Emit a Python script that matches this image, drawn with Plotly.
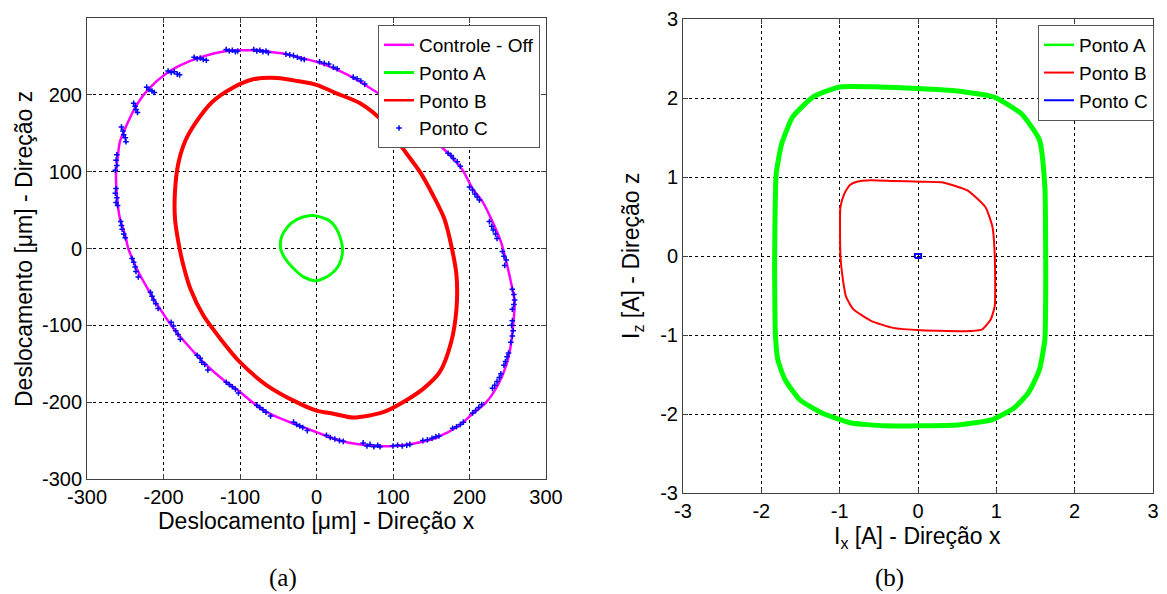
import plotly.graph_objects as go

# ---------------- Data: panel (a) displacement [um] ----------------
ctrl_off_x = [-262, -260, -257, -248, -235, -220, -196, -179, -148, -118, -100, -84, -62, -40, -16,
              0, 26, 57, 100, 143, 174, 191, 204, 217, 230, 241, 248, 254, 259, 257, 254, 248,
              237, 222, 204, 187, 157, 126, 100, 65, 30, 0, -30, -57, -75, -102, -118, -148,
              -170, -187, -205, -218, -235, -246, -250, -257, -261, -262]
ctrl_off_y = [100, 117, 139, 161, 187, 207, 228, 238, 250, 257, 258, 258, 256, 253, 247,
              243, 233, 217, 188, 150, 122, 102, 78, 61, 35, 9, -17, -43, -70, -100, -126, -152,
              -178, -200, -215, -230, -246, -254, -257, -256, -250, -239, -228, -217, -207, -185, -174, -148,
              -124, -104, -78, -57, -26, 0, 17, 39, 70, 100]

pontoA_x = [-4, 17, 28, 34, 30, 18, 0, -17, -30, -41, -47, -45, -33, -18, -4]
pontoA_y = [43, 36, 22, 0, -20, -34, -42, -37, -26, -13, 0, 17, 33, 41, 43]

pontoB_x = [-51, -25, 0, 26, 57, 87, 113, 135, 152, 167, 177, 183, 183, 176, 161, 139, 113, 87,
            48, 22, 0, -30, -65, -100, -126, -148, -165, -174, -179, -185, -185, -181, -172,
            -157, -136, -110, -84, -51]
pontoB_y = [222, 218, 213, 202, 189, 165, 130, 100, 70, 39, 0, -35, -78, -122, -161, -183, -200, -213,
            -220, -215, -211, -198, -178, -148, -117, -87, -52, -22, 0, 39, 74, 109, 139,
            165, 191, 209, 220, 222]

pontoC_x = [-118, -114, -110, -106, -103, -82, -78, -74, -70, -66, -63, -40, -35, -30, -25, -20, -16,
            -160, -156, -152, -148, -144, -194, -190, -186, -182, -179, -222, -219, -215, -212,
            -239, -237, -236, -234, -255, -253, -252, -250, -249, -261, -262, -261, -263,
            -262, -263, -261, -262, -260, -256, -255, -254, -252, -250,
            4, 10, 16, 22, 27, 48, 53, 58, 63, 143, 146, 149, 151, 154, 172, 176, 179, 184, 188,
            200, 204, 207, 210, 213, 226, 229, 231, 234, 236,
            -241, -239, -237, -236, -233, -217, -215, -213, -210, -207, -190, -187, -184, -181, -178,
            -156, -152, -150, -146, -142, -118, -114, -110, -106, -102, -78, -74, -70, -66, -60,
            -30, -26, -22, -18, -12,
            13, 18, 24, 30, 35, 61, 66, 70, 75, 80, 83, 100, 106, 112, 118, 122, 139, 145, 151, 156, 160,
            178, 183, 188, 192, 204, 208, 212, 216, 230, 233, 236, 239, 241, 245, 247, 249, 251,
            254, 256, 257, 255, 256, 256, 258, 259, 258, 256, 246, 248, 245, 243]
pontoC_y = [259, 257, 258, 256, 257, 259, 257, 258, 256, 257, 255, 253, 252, 251, 249, 247, 246,
            249, 247, 248, 246, 245, 231, 229, 230, 227, 226, 210, 207, 205, 203,
            189, 185, 181, 177, 158, 153, 148, 144, 139, 122, 115, 108, 102,
            78, 72, 66, 60, 56, 35, 30, 25, 19, 14,
            243, 241, 240, 236, 234, 223, 221, 218, 214, 152, 149, 146, 142, 139, 124, 121, 117, 113, 107,
            80, 76, 71, 67, 63, 35, 29, 24, 19, 13,
            -13, -18, -24, -30, -37, -57, -62, -67, -72, -78, -96, -101, -107, -112, -118,
            -139, -143, -148, -151, -158, -174, -177, -180, -183, -188, -204, -207, -210, -213, -218,
            -226, -229, -231, -233, -237,
            -243, -246, -248, -250, -251, -253, -257, -255, -258, -256, -258, -257, -256, -257, -256, -255,
            -250, -249, -247, -245, -244,
            -234, -232, -229, -226, -214, -211, -207, -203, -182, -178, -173, -168, -163, -152, -147, -141, -136,
            -122, -114, -107, -100, -94, -79, -73, -67, -60, -53, -22, -15, -10, -4]

# ---------------- Data: panel (b) currents [A] ----------------
ib_A_x = [-1.33, -1.0, -0.5, 0.0, 0.5, 0.9, 1.0, 1.32, 1.55, 1.62, 1.63, 1.63, 1.62, 1.55, 1.41, 1.23,
          0.95, 0.5, 0.04, -0.42, -0.87, -1.24, -1.51, -1.70, -1.79, -1.82, -1.83, -1.83, -1.81,
          -1.74, -1.6, -1.33]
ib_A_y = [2.02, 2.14, 2.14, 2.12, 2.09, 2.03, 2.0, 1.80, 1.47, 0.87, 0.0, -0.5, -1.05, -1.44, -1.73, -1.92,
          -2.07, -2.14, -2.15, -2.15, -2.11, -1.98, -1.82, -1.56, -1.31, -1.0, -0.29, 0.0, 1.04,
          1.42, 1.76, 2.02]

ib_B_x = [-0.87, -0.78, -0.6, -0.32, 0.04, 0.32, 0.63, 0.86, 0.95, 0.98, 0.98, 0.93, 0.82, 0.68, 0.04,
          -0.32, -0.60, -0.83, -0.92, -0.96, -0.99, -0.99, -0.94, -0.87]
ib_B_y = [0.90, 0.94, 0.96, 0.95, 0.94, 0.93, 0.83, 0.62, 0.37, 0.0, -0.63, -0.80, -0.93, -0.95, -0.94,
          -0.91, -0.82, -0.67, -0.51, -0.29, 0.0, 0.62, 0.79, 0.90]

ib_C_x = [-0.04, 0.04, 0.04, -0.04, -0.04]
ib_C_y = [-0.025, -0.025, 0.025, 0.025, -0.025]

tick_a = [-300, -200, -100, 0, 100, 200, 300]
tick_a_text = ["-300", "-200", "-100", "0", "100", "200", "300"]
tick_b = [-3, -2, -1, 0, 1, 2, 3]
tick_b_text = ["-3", "-2", "-1", "0", "1", "2", "3"]

MAGENTA = "#ff00ff"
GREEN = "#00ff00"
RED = "#ff0000"
BLUE = "#0000ff"

fig = go.Figure()

# panel (a)
fig.add_trace(go.Scatter(x=ctrl_off_x, y=ctrl_off_y, mode="lines", name="Controle - Off",
                         line=dict(color=MAGENTA, width=2.5, shape="spline", smoothing=0.8),
                         xaxis="x", yaxis="y", legend="legend"))
fig.add_trace(go.Scatter(x=pontoA_x, y=pontoA_y, mode="lines", name="Ponto A",
                         line=dict(color=GREEN, width=3, shape="spline", smoothing=0.8),
                         xaxis="x", yaxis="y", legend="legend"))
fig.add_trace(go.Scatter(x=pontoB_x, y=pontoB_y, mode="lines", name="Ponto B", showlegend=False,
                         line=dict(color=RED, width=4, shape="spline", smoothing=0.8),
                         xaxis="x", yaxis="y", legend="legend"))
fig.add_trace(go.Scatter(x=[None], y=[None], mode="lines", name="Ponto B",
                         line=dict(color=RED, width=2.5),
                         xaxis="x", yaxis="y", legend="legend"))
fig.add_trace(go.Scatter(x=pontoC_x, y=pontoC_y, mode="markers", name="Ponto C",
                         marker=dict(color=BLUE, size=4, symbol="cross-thin",
                                     line=dict(color=BLUE, width=1.5)),
                         xaxis="x", yaxis="y", legend="legend"))

# panel (b)
fig.add_trace(go.Scatter(x=ib_A_x, y=ib_A_y, mode="lines", name="Ponto A", showlegend=False,
                         line=dict(color=GREEN, width=5, shape="spline", smoothing=0.5),
                         xaxis="x2", yaxis="y2", legend="legend2"))
fig.add_trace(go.Scatter(x=[None], y=[None], mode="lines", name="Ponto A",
                         line=dict(color=GREEN, width=2.5),
                         xaxis="x2", yaxis="y2", legend="legend2"))
fig.add_trace(go.Scatter(x=ib_B_x, y=ib_B_y, mode="lines", name="Ponto B",
                         line=dict(color=RED, width=2, shape="spline", smoothing=0.5),
                         xaxis="x2", yaxis="y2", legend="legend2"))
fig.add_trace(go.Scatter(x=ib_C_x, y=ib_C_y, mode="lines", name="Ponto C",
                         line=dict(color=BLUE, width=2),
                         xaxis="x2", yaxis="y2", legend="legend2"))

# page body has an 8 px margin; the figure is sized/offset so screen pixels match the reference
OFF = 8
W, H = 1167 - OFF, 594 - OFF
FONT = "Liberation Sans, Arial, sans-serif"

def px_x(p):
    return (p - OFF) / W

def px_y(p):
    return 1 - (p - OFF) / H

axis_common = dict(
    showgrid=True, gridcolor="#000000", griddash="dot", gridwidth=1,
    zeroline=False, showline=True, linecolor="#404040", linewidth=1, mirror="ticks",
    ticks="inside", ticklen=5, tickcolor="#404040", automargin=False,
    tickfont=dict(family=FONT, size=20, color="#000000"),
)

fig.update_layout(
    width=W, height=H,
    paper_bgcolor="white", plot_bgcolor="white",
    margin=dict(l=0, r=0, t=0, b=0, autoexpand=False),
    xaxis=dict(domain=[px_x(87), px_x(546)], range=[-300, 300], tickvals=tick_a,
               ticktext=tick_a_text, anchor="y", **axis_common),
    yaxis=dict(domain=[px_y(479), px_y(18)], range=[-300, 300], tickvals=tick_a,
               ticktext=tick_a_text, anchor="x", **axis_common),
    xaxis2=dict(domain=[px_x(683), px_x(1153)], range=[-3, 3], tickvals=tick_b,
                ticktext=tick_b_text, anchor="y2", **axis_common),
    yaxis2=dict(domain=[px_y(493), px_y(19)], range=[-3, 3], tickvals=tick_b,
                ticktext=tick_b_text, anchor="x2", **axis_common),
    legend=dict(x=px_x(540), y=px_y(25), xanchor="right", yanchor="top",
                bgcolor="white", bordercolor="#555555", borderwidth=1,
                font=dict(family=FONT, size=19, color="#000000"),
                itemwidth=30, tracegroupgap=0),
    legend2=dict(x=px_x(1154), y=px_y(25), xanchor="right", yanchor="top",
                 bgcolor="white", bordercolor="#555555", borderwidth=1,
                 font=dict(family=FONT, size=19, color="#000000"),
                 itemwidth=30, tracegroupgap=0),
    showlegend=True,
)

def label(text, x, y, size=24, angle=0, family=FONT):
    return dict(text=text, x=px_x(x), y=px_y(y), xref="paper", yref="paper",
                xanchor="center", yanchor="middle", showarrow=False, textangle=angle,
                font=dict(family=family, size=size, color="#000000"))

SERIF = "Liberation Serif, Times New Roman, serif"
ann = [
    label("Deslocamento [μm] - Direção x", 316, 521, size=23),
    label("Deslocamento [μm] - Direção z", 24, 249, size=23, angle=-90),
    label("I<sub>x</sub> [A] - Direção x", 917, 537, size=23),
    label("I<sub>z</sub> [A] - Direção z", 632, 256, size=23, angle=-90),
    label("(a)", 283, 578, size=25, family=SERIF),
    label("(b)", 889, 578, size=25, family=SERIF),
]
fig.update_layout(annotations=ann)

fig.write_html("out.html")
